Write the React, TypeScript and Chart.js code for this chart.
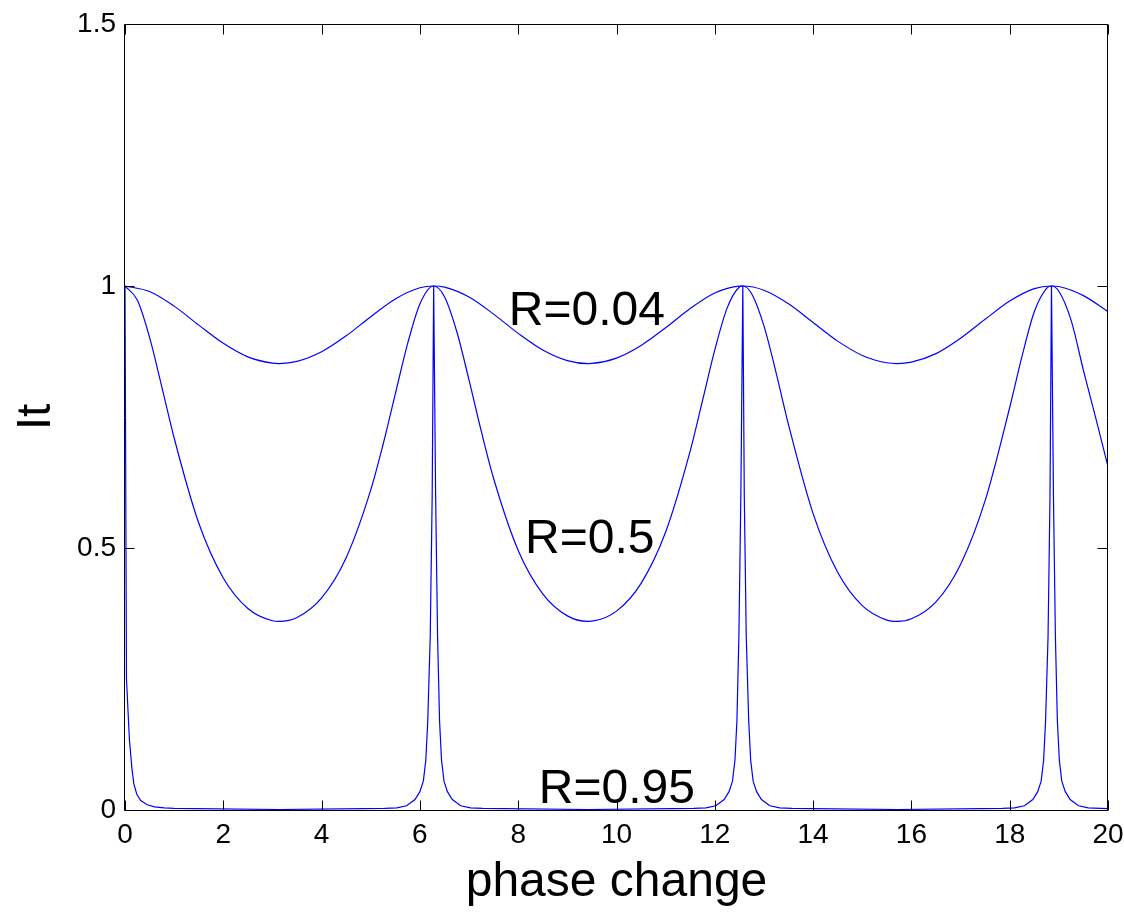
import React, { useEffect, useRef } from "react";
import { Chart, registerables } from "chart.js";

Chart.register(...registerables);

// x positions (phase change) for R = 0.04
const r004X = [
  0, 0.5, 1, 1.5, 2, 2.5, 3, 3.14, 3.5, 4, 4.5, 5, 5.5, 6, 6.28, 6.5, 7, 7.5, 8, 8.5, 9, 9.42,
  9.5, 10, 10.5, 11, 11.5, 12, 12.5, 12.57, 13, 13.5, 14, 14.5, 15, 15.5, 15.71, 16, 16.5, 17,
  17.5, 18, 18.5, 18.85, 19, 19.5, 20,
];
const r004Y = [
  1, 0.9895, 0.9616, 0.9253, 0.8906, 0.8648, 0.8527, 0.852, 0.8561, 0.8745, 0.9049, 0.9415,
  0.9753, 0.9966, 1, 0.998, 0.9791, 0.9463, 0.9096, 0.8779, 0.8577, 0.852, 0.8522, 0.8624,
  0.8865, 0.9204, 0.957, 0.9866, 0.9998, 1, 0.992, 0.966, 0.9303, 0.8948, 0.8675, 0.8535,
  0.852, 0.8548, 0.8709, 0.9003, 0.9365, 0.9713, 0.995, 1, 0.999, 0.9816, 0.9511,
];

// R = 0.5
const r05X = [
  0, 0.25, 0.5, 0.75, 1, 1.5, 2, 2.5, 3, 3.14, 3.5, 4, 4.5, 5, 5.25, 5.5, 5.75, 6, 6.28, 6.5,
  6.75, 7, 7.25, 7.5, 8, 8.5, 9, 9.42, 9.5, 10, 10.5, 11, 11.5, 11.75, 12, 12.25, 12.5, 12.57,
  12.75, 13, 13.25, 13.5, 14, 14.5, 15, 15.5, 15.71, 16, 16.5, 17, 17.5, 18, 18.25, 18.5,
  18.75, 18.85, 19, 19.25, 19.5, 19.75, 20,
];
const r05Y = [
  1, 0.9731, 0.9019, 0.8072, 0.7099, 0.5476, 0.4427, 0.3844, 0.3611, 0.36, 0.3674, 0.4048,
  0.4816, 0.6109, 0.6975, 0.7942, 0.89, 0.9658, 1, 0.9796, 0.9131, 0.8204, 0.7224, 0.6326,
  0.4954, 0.4125, 0.3705, 0.36, 0.3603, 0.3795, 0.4326, 0.5305, 0.6852, 0.7812, 0.8781,
  0.9578, 0.998, 1, 0.9852, 0.9239, 0.8333, 0.7352, 0.5657, 0.4536, 0.3899, 0.3624, 0.36,
  0.3649, 0.3972, 0.4687, 0.5903, 0.7681, 0.8656, 0.9508, 0.9956, 1, 0.99, 0.9344, 0.8391,
  0.7483, 0.6553,
];

// R = 0.95 (sharp peaks)
const r095X = [
  0, 0.03, 0.09, 0.14, 0.18, 0.24, 0.32, 0.45, 0.6, 0.8, 1.0, 3.14,
  5.28, 5.53, 5.73, 5.9, 6.0, 6.07, 6.12, 6.16, 6.21, 6.25, 6.28, 6.32, 6.36, 6.4, 6.44, 6.49,
  6.56, 6.66, 6.83, 7.03, 7.28, 9.42,
  11.57, 11.82, 12.02, 12.19, 12.29, 12.36, 12.41, 12.45, 12.49, 12.53, 12.57, 12.6, 12.64,
  12.69, 12.73, 12.78, 12.85, 12.95, 13.12, 13.32, 13.57, 15.71,
  17.85, 18.1, 18.3, 18.47, 18.57, 18.64, 18.69, 18.73, 18.78, 18.82, 18.85, 18.89, 18.93,
  18.97, 19.01, 19.06, 19.13, 19.23, 19.4, 19.6, 19.85, 20,
];
const r095Y = [
  1, 0.25, 0.134, 0.08, 0.05, 0.03, 0.018, 0.01, 0.006, 0.004, 0.003, 0.001,
  0.003, 0.004, 0.008, 0.02, 0.035, 0.055, 0.095, 0.17, 0.33, 0.6, 1, 0.6, 0.33, 0.17, 0.095,
  0.055, 0.035, 0.02, 0.008, 0.004, 0.003, 0.001,
  0.003, 0.004, 0.008, 0.02, 0.035, 0.055, 0.095, 0.17, 0.33, 0.6, 1, 0.6, 0.33, 0.17, 0.095,
  0.055, 0.035, 0.02, 0.008, 0.004, 0.003, 0.001,
  0.003, 0.004, 0.008, 0.02, 0.035, 0.055, 0.095, 0.17, 0.33, 0.6, 1, 0.6, 0.33, 0.17, 0.095,
  0.055, 0.035, 0.02, 0.008, 0.004, 0.003, 0.0025,
];

// in-plot annotations
const labelTexts = ["R=0.04", "R=0.5", "R=0.95"];
const labelXs = [7.81, 8.14, 8.42];
const labelYs = [0.9256, 0.4905, 0.0134];

const xTitle = "phase change";
const yTitle = "It";
const xMin = 0, xMax = 20, xStep = 2;
const yMin = 0, yMax = 1.5, yStep = 0.5;

const FONT = "'Liberation Sans', Arial, Helvetica, sans-serif";

export default function App() {
  const ref = useRef<HTMLCanvasElement>(null);

  useEffect(() => {
    if (!ref.current) return;
    const toPts = (xs: number[], ys: number[]) => xs.map((x, i) => ({ x, y: ys[i] }));

    const framePlugin = {
      id: "frame",
      afterDraw(chart: any) {
        const { ctx, chartArea: a, scales } = chart;
        const sx = scales.x;
        const sy = scales.y;
        ctx.save();
        ctx.strokeStyle = "#000";
        ctx.lineWidth = 1;
        const L = Math.round(a.left) - 0.5;
        const R = Math.round(a.right) - 0.5;
        const T = Math.round(a.top) + 0.5;
        const B = Math.round(a.bottom) + 0.5;
        ctx.beginPath();
        ctx.rect(L, T, R - L, B - T);
        ctx.stroke();
        const tl = 10;
        ctx.beginPath();
        sx.ticks.forEach((t: any) => {
          const px = Math.round(sx.getPixelForValue(t.value)) + 0.5;
          ctx.moveTo(px, B);
          ctx.lineTo(px, B - tl);
          ctx.moveTo(px, T);
          ctx.lineTo(px, T + tl);
        });
        sy.ticks.forEach((t: any) => {
          const py = Math.round(sy.getPixelForValue(t.value)) + 0.5;
          ctx.moveTo(L, py);
          ctx.lineTo(L + tl, py);
          ctx.moveTo(R, py);
          ctx.lineTo(R - tl, py);
        });
        ctx.stroke();

        ctx.fillStyle = "#000";
        ctx.font = `48px ${FONT}`;
        ctx.textAlign = "left";
        ctx.textBaseline = "alphabetic";
        labelTexts.forEach((txt, i) => {
          ctx.fillText(txt, sx.getPixelForValue(labelXs[i]), sy.getPixelForValue(labelYs[i]));
        });

        ctx.textAlign = "center";
        ctx.fillText(xTitle, (a.left + a.right) / 2, 896);
        ctx.save();
        ctx.translate(50, (a.top + a.bottom) / 2);
        ctx.rotate(-Math.PI / 2);
        ctx.fillText(yTitle, 0, 0);
        ctx.restore();
        ctx.restore();
      },
    };

    const tickFont = { size: 28, family: FONT };

    const chart = new Chart(ref.current, {
      type: "line",
      data: {
        datasets: [
          {
            label: "R=0.04",
            data: toPts(r004X, r004Y),
            borderColor: "#0000ff",
            borderWidth: 1.2,
            pointRadius: 0,
            fill: false,
            cubicInterpolationMode: "monotone",
          },
          {
            label: "R=0.5",
            data: toPts(r05X, r05Y),
            borderColor: "#0000ff",
            borderWidth: 1.2,
            pointRadius: 0,
            fill: false,
            cubicInterpolationMode: "monotone",
          },
          {
            label: "R=0.95",
            data: toPts(r095X, r095Y),
            borderColor: "#0000ff",
            borderWidth: 1.2,
            pointRadius: 0,
            fill: false,
            tension: 0,
          },
        ],
      },
      options: {
        animation: false,
        responsive: true,
        maintainAspectRatio: false,
        layout: { padding: { top: 24, right: 16, bottom: 0, left: 0 } },
        plugins: {
          legend: { display: false },
          tooltip: { enabled: false },
        },
        scales: {
          x: {
            type: "linear",
            min: xMin,
            max: xMax,
            ticks: {
              stepSize: xStep,
              font: tickFont,
              color: "#000",
              padding: 8,
              maxRotation: 0,
              autoSkip: false,
            },
            grid: { display: false, drawTicks: false },
            border: { display: false },
            afterFit: (s: any) => {
              s.height = 104;
              s.paddingLeft = 0;
              s.paddingRight = 0;
            },
          },
          y: {
            type: "linear",
            min: yMin,
            max: yMax,
            ticks: {
              stepSize: yStep,
              font: tickFont,
              color: "#000",
              padding: 9,
              callback: (v: any) => String(Number(v)),
            },
            grid: { display: false, drawTicks: false },
            border: { display: false },
            afterFit: (s: any) => {
              s.width = 125;
              s.paddingTop = 0;
              s.paddingBottom = 0;
            },
          },
        },
      },
      plugins: [framePlugin],
    } as any);

    return () => chart.destroy();
  }, []);

  return (
    <div
      style={{
        position: "absolute",
        left: 0,
        top: 0,
        width: 1124,
        height: 914,
        background: "#fff",
      }}
    >
      <canvas ref={ref} />
    </div>
  );
}
